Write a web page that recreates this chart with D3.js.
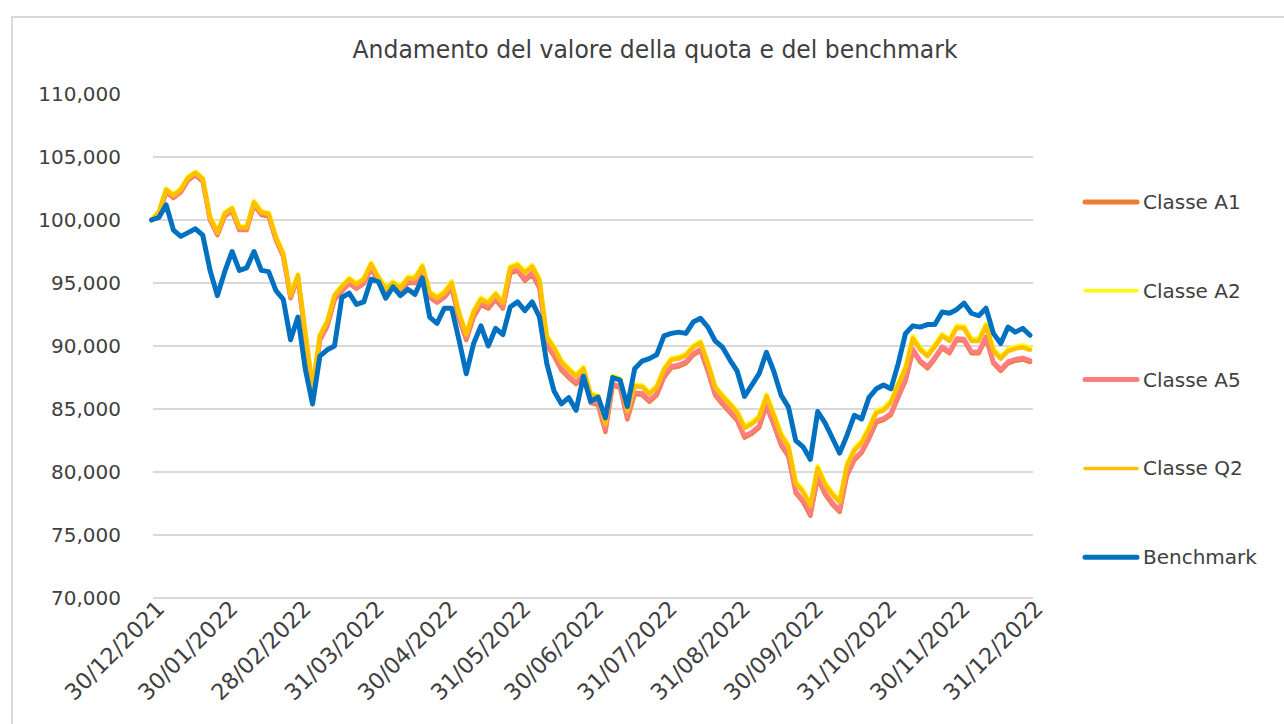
<!DOCTYPE html>
<html>
<head>
<meta charset="utf-8">
<script src="https://cdn.jsdelivr.net/npm/d3@7"></script>
<style>
  body { margin: 0; background: #ffffff; }
  svg text { font-family: "DejaVu Sans", Verdana, sans-serif; fill: #404040; }
</style>
</head>
<body>
<script>
var width = 1284;
var height = 724;

//Data (valore quota, base 100 al 30/12/2021)
var tickLabels = ["30/12/2021", "30/01/2022", "28/02/2022", "31/03/2022", "30/04/2022", "31/05/2022",
                  "30/06/2022", "31/07/2022", "31/08/2022", "30/09/2022", "31/10/2022", "30/11/2022", "31/12/2022"];

var yTicks = [70, 75, 80, 85, 90, 95, 100, 105, 110];

var classeA1 = [100.0, 100.4, 102.2, 101.75, 102.2, 103.15, 103.55, 103.05, 100.0, 98.8,
  100.3, 100.7, 99.2, 99.2, 101.2, 100.4, 100.3, 98.4, 97.1, 93.8,
  95.4, 90.75, 86.35, 90.45, 91.55, 93.65, 94.35, 94.95, 94.55, 94.95,
  96.15, 95.05, 94.15, 94.65, 94.25, 95.0, 95.0, 95.95, 93.85, 93.45,
  93.85, 94.58, 92.18, 90.48, 92.28, 93.28, 92.98, 93.68, 92.98, 95.78,
  95.98, 95.18, 95.68, 94.58, 90.08, 89.18, 88.08, 87.48, 86.98, 87.58,
  85.48, 85.33, 83.18, 86.88, 86.68, 84.18, 86.18, 86.13, 85.58, 86.08,
  87.48, 88.28, 88.38, 88.63, 89.28, 89.63, 87.98, 86.08, 85.38, 84.73,
  84.08, 82.73, 83.03, 83.53, 85.23, 83.73, 82.13, 81.23, 78.33, 77.63,
  76.53, 79.53, 78.23, 77.43, 76.83, 79.73, 80.93, 81.53, 82.63, 83.93,
  84.13, 84.53, 85.93, 87.23, 89.63, 88.73, 88.23, 88.98, 89.83, 89.43,
  90.48, 90.43, 89.43, 89.43, 90.63, 88.63, 88.03, 88.63, 88.83, 88.93,
  88.73];

var classeA2 = [100.0, 100.68, 102.48, 102.03, 102.48, 103.43, 103.83, 103.33, 100.28, 99.08,
  100.58, 100.98, 99.48, 99.48, 101.48, 100.68, 100.58, 98.68, 97.38, 94.08,
  95.68, 91.18, 86.78, 90.88, 91.98, 94.08, 94.78, 95.38, 94.98, 95.38,
  96.58, 95.52, 94.62, 95.12, 94.72, 95.47, 95.47, 96.42, 94.32, 93.92,
  94.32, 95.12, 92.72, 91.02, 92.82, 93.82, 93.52, 94.22, 93.52, 96.32,
  96.52, 95.92, 96.42, 95.32, 90.82, 89.92, 88.82, 88.22, 87.72, 88.32,
  86.22, 86.07, 83.92, 87.62, 87.42, 84.92, 86.92, 86.87, 86.32, 86.82,
  88.22, 89.02, 89.12, 89.37, 90.02, 90.37, 88.72, 86.82, 86.12, 85.47,
  84.82, 83.65, 83.95, 84.45, 86.15, 84.65, 83.05, 82.15, 79.25, 78.55,
  77.45, 80.45, 79.15, 78.35, 77.75, 80.65, 81.85, 82.45, 83.55, 84.85,
  85.05, 85.65, 87.05, 88.35, 90.75, 89.85, 89.35, 90.1, 90.95, 90.55,
  91.6, 91.55, 90.55, 90.55, 91.75, 89.75, 89.15, 89.75, 89.95, 90.05,
  89.85];

var classeA5 = [100.0, 100.45, 102.25, 101.8, 102.25, 103.2, 103.6, 103.1, 100.05, 98.85,
  100.35, 100.75, 99.25, 99.25, 101.25, 100.45, 100.35, 98.45, 97.15, 93.85,
  95.45, 90.8, 86.4, 90.5, 91.6, 93.7, 94.4, 95.0, 94.6, 95.0,
  96.2, 95.1, 94.2, 94.7, 94.3, 95.05, 95.05, 96.0, 93.9, 93.5,
  93.9, 94.7, 92.3, 90.6, 92.4, 93.4, 93.1, 93.8, 93.1, 95.9,
  96.1, 95.3, 95.8, 94.7, 90.2, 89.3, 88.2, 87.6, 87.1, 87.7,
  85.6, 85.45, 83.3, 87.0, 86.8, 84.3, 86.3, 86.25, 85.7, 86.2,
  87.6, 88.4, 88.5, 88.75, 89.4, 89.75, 88.1, 86.2, 85.5, 84.85,
  84.2, 82.85, 83.15, 83.65, 85.35, 83.85, 82.25, 81.35, 78.45, 77.75,
  76.65, 79.65, 78.35, 77.55, 76.95, 79.85, 81.05, 81.65, 82.75, 84.05,
  84.25, 84.65, 86.05, 87.35, 89.75, 88.85, 88.35, 89.1, 89.95, 89.55,
  90.6, 90.55, 89.55, 89.55, 90.75, 88.75, 88.15, 88.75, 88.95, 89.05,
  88.85];

var classeQ2 = [100.0, 100.6, 102.4, 101.95, 102.4, 103.35, 103.75, 103.25, 100.2, 99.0,
  100.5, 100.9, 99.4, 99.4, 101.4, 100.6, 100.5, 98.6, 97.3, 94.0,
  95.6, 91.1, 86.7, 90.8, 91.9, 94.0, 94.7, 95.3, 94.9, 95.3,
  96.5, 95.4, 94.5, 95.0, 94.6, 95.35, 95.35, 96.3, 94.2, 93.8,
  94.2, 95.0, 92.6, 90.9, 92.7, 93.7, 93.4, 94.1, 93.4, 96.2,
  96.4, 95.8, 96.3, 95.2, 90.7, 89.8, 88.7, 88.1, 87.6, 88.2,
  86.1, 85.95, 83.8, 87.5, 87.3, 84.8, 86.8, 86.75, 86.2, 86.7,
  88.1, 88.9, 89.0, 89.25, 89.9, 90.25, 88.6, 86.7, 86.0, 85.35,
  84.7, 83.5, 83.8, 84.3, 86.0, 84.5, 82.9, 82.0, 79.1, 78.4,
  77.3, 80.3, 79.0, 78.2, 77.6, 80.5, 81.7, 82.3, 83.4, 84.7,
  84.9, 85.5, 86.9, 88.2, 90.6, 89.7, 89.2, 89.95, 90.8, 90.4,
  91.45, 91.4, 90.4, 90.4, 91.6, 89.6, 89.0, 89.6, 89.8, 89.9,
  89.7];

var benchmark = [100.0, 100.2, 101.2, 99.2, 98.7, 99.0, 99.3, 98.8, 96.0, 94.0,
  95.9, 97.5, 96.0, 96.2, 97.5, 96.0, 95.9, 94.4, 93.7, 90.5,
  92.3, 88.2, 85.4, 89.2, 89.7, 90.0, 93.85, 94.2, 93.3, 93.5,
  95.3, 95.1, 93.8, 94.7, 94.0, 94.5, 94.1, 95.4, 92.3, 91.8,
  93.0, 93.0, 90.5, 87.8, 90.2, 91.6, 90.0, 91.4, 90.9, 93.1,
  93.5, 92.8, 93.5, 92.3, 88.6, 86.4, 85.4, 85.9, 84.9, 87.6,
  85.6, 85.95, 84.3, 87.5, 87.3, 85.2, 88.2, 88.8, 89.0, 89.3,
  90.8, 91.0, 91.1, 91.0, 91.9, 92.2, 91.5, 90.4, 89.9, 88.9,
  88.0, 86.0, 86.9, 87.8, 89.5, 88.0, 86.1, 85.15, 82.5, 82.0,
  81.0, 84.8, 83.9, 82.7, 81.5, 82.9, 84.5, 84.2, 85.9, 86.6,
  86.9, 86.6, 88.6, 91.0, 91.6, 91.5, 91.7, 91.7, 92.7, 92.6,
  92.9, 93.4, 92.6, 92.4, 93.0, 91.0, 90.2, 91.5, 91.1, 91.4,
  90.85];

var seriesNames = ["Classe A1", "Classe A2", "Classe A5", "Classe Q2", "Benchmark"];
var seriesValues = [classeA1, classeA2, classeA5, classeQ2, benchmark];
var seriesColors = ["#ED7D31", "#FFFF00", "#FF7C80", "#FFC000", "#0070C0"];

var svg = d3.select("body")
            .append("svg")
            .attr("width", width)
            .attr("height", height);

//Chart frame
svg.append("rect")
   .attr("x", 12)
   .attr("y", 17)
   .attr("width", 1300)
   .attr("height", 740)
   .attr("fill", "#ffffff")
   .attr("stroke", "#d9d9d9")
   .attr("stroke-width", 2);

//Scales
var xScale = d3.scaleLinear()
               .domain([0, benchmark.length - 1])
               .range([151.5, 1030]);

var yScale = d3.scaleLinear()
               .domain([70, 110])
               .range([598, 94]);

var itFormat = d3.formatLocale({decimal: ",", thousands: ".", grouping: [3], currency: ["€", ""]}).format(".3f");

//Gridlines
svg.selectAll(".grid")
   .data(yTicks.filter(function(d){ return d < 110; }))
   .enter()
   .append("line")
   .attr("class", "grid")
   .attr("x1", 153)
   .attr("x2", 1033)
   .attr("y1", function(d){ return yScale(d); })
   .attr("y2", function(d){ return yScale(d); })
   .attr("stroke", "#d9d9d9")
   .attr("stroke-width", 2);

//Y axis
var yAxis = d3.axisLeft(yScale)
              .tickValues(yTicks)
              .tickSize(0)
              .tickPadding(0)
              .tickFormat(itFormat);

var gy = svg.append("g")
            .attr("transform", "translate(121,0)")
            .call(yAxis);
gy.select(".domain").remove();
gy.selectAll("text")
  .attr("font-size", 20)
  .style("font-family", "'DejaVu Sans', Verdana, sans-serif")
  .attr("fill", "#404040");

//X axis
var xAxis = d3.axisBottom(xScale)
              .tickValues(d3.range(0, benchmark.length, 10))
              .tickSize(0)
              .tickFormat(function(d, i){ return tickLabels[i]; });

var gx = svg.append("g")
            .attr("transform", "translate(0,598)")
            .call(xAxis);
gx.select(".domain").remove();
gx.selectAll("text")
  .attr("font-size", 22.5)
  .style("font-family", "'DejaVu Sans', Verdana, sans-serif")
  .attr("fill", "#404040")
  .attr("x", 0)
  .attr("y", 0)
  .attr("dy", 0)
  .attr("text-anchor", "end")
  .attr("transform", "translate(14,12) rotate(-45)");

//Lines
var line = d3.line()
             .x(function(d, i){ return xScale(i); })
             .y(function(d){ return yScale(d); });

svg.selectAll(".serie")
   .data(seriesValues)
   .enter()
   .append("path")
   .attr("class", "serie")
   .attr("d", line)
   .attr("fill", "none")
   .attr("stroke", function(d, i){ return seriesColors[i]; })
   .attr("stroke-width", function(d, i){ return i == 4 ? 5 : 4.5; })
   .attr("stroke-linejoin", "round")
   .attr("stroke-linecap", "round");

//Title
svg.append("text")
   .attr("x", 655)
   .attr("y", 58)
   .attr("text-anchor", "middle")
   .attr("font-size", 24)
   .attr("textLength", 605)
   .attr("lengthAdjust", "spacingAndGlyphs")
   .text("Andamento del valore della quota e del benchmark");

//Legend
var legend = svg.selectAll(".legend")
                .data(seriesNames)
                .enter()
                .append("g")
                .attr("class", "legend")
                .attr("transform", function(d, i){ return "translate(0," + (202 + i * 88.8) + ")"; });

legend.append("line")
      .attr("x1", 1085)
      .attr("x2", 1137)
      .attr("stroke", function(d, i){ return seriesColors[i]; })
      .attr("stroke-width", function(d, i){ return (i == 1 || i == 3) ? 3.5 : 5; })
      .attr("stroke-linecap", "round");

legend.append("text")
      .attr("x", 1143)
      .attr("dy", "0.35em")
      .attr("font-size", 20)
      .text(function(d){ return d; });
</script>
</body>
</html>
